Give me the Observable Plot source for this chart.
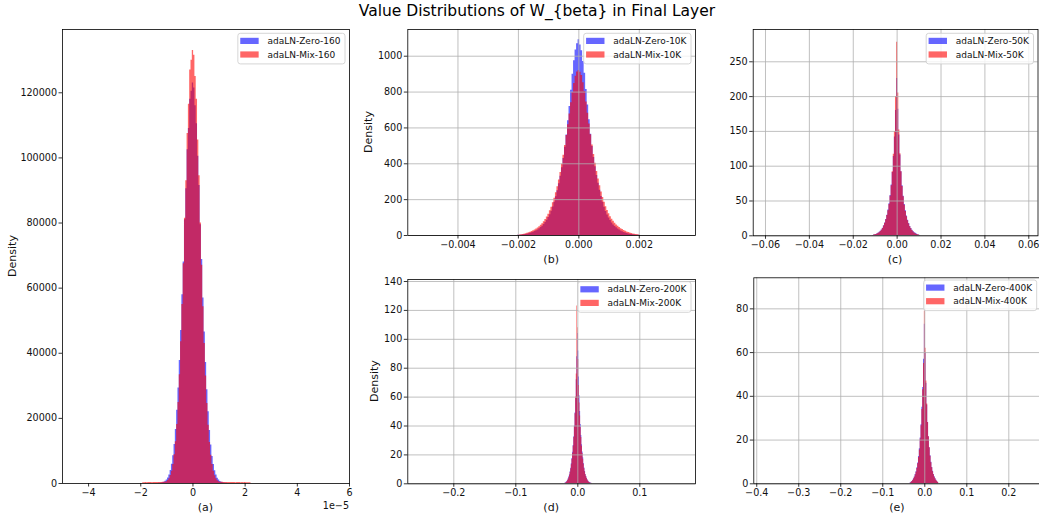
<!DOCTYPE html>
<html>
<head>
<meta charset="utf-8">
<script src="https://cdn.jsdelivr.net/npm/d3@7"></script>
<script src="https://cdn.jsdelivr.net/npm/@observablehq/plot@0.6"></script>
<style>
  html, body { margin: 0; padding: 0; background: #fff; }
  #figure { position: relative; width: 1039px; height: 515px; overflow: hidden; font-family: "DejaVu Sans", sans-serif; }
  #title { position: absolute; left: 537px; top: 2px; transform: translateX(-50%); white-space: nowrap;
           font-size: 15.5px; color: #000; z-index: 2; }
</style>
</head>
<body>
<div id="figure">
  <div id="title">Value Distributions of W_{beta} in Final Layer</div>
</div>
<script>
// ---- histogram bins (bin centres) and densities per checkpoint ----

// (a) step 160, x in units of 1e-5
const centersA = [-2.00,-1.95,-1.90,-1.85,-1.80,-1.75,-1.70,-1.65,-1.60,-1.55,-1.50,-1.45,-1.40,-1.35,-1.30,-1.25,-1.20,-1.15,
                  -1.10,-1.05,-1.00,-0.95,-0.90,-0.85,-0.80,-0.75,-0.70,-0.65,-0.60,-0.55,-0.50,-0.45,-0.40,-0.35,-0.30,-0.25,
                  -0.20,-0.15,-0.10,-0.05,0.00,0.05,0.10,0.15,0.20,0.25,0.30,0.35,0.40,0.45,0.50,0.55,0.60,0.65,0.70,0.75,
                  0.80,0.85,0.90,0.95,1.00,1.05,1.10,1.15,1.20,1.25,1.30,1.35,1.40,1.45,1.50,1.55,1.60,1.65,1.70,1.75,
                  1.80,1.85,1.90,1.95,2.00,2.05,2.10,2.15,2.20];
const zeroA = [0,0,0,0,0,0,0,0,0,0,
               0,8,16,30,52,88,145,245,410,660,
               1070,1690,2640,3980,5900,8500,12000,16600,22500,29300,
               37800,47000,58000,68000,81000,90500,102500,109000,118000,120500,
               123000,
               121500,116000,110500,100500,91500,79500,68800,57000,46500,37200,
               28800,22000,16300,11800,8300,5800,3900,2580,1650,1040,
               640,395,235,138,82,48,28,14,7,
               0,0,0,0,0,0,0,0,0,0,0,0,0,0,0];
const mixA = [0,0,240,260,280,250,270,300,280,260,
              290,300,310,290,320,330,340,360,390,440,
              530,900,1490,2420,3800,5850,8800,12800,18100,24900,
              33400,43500,55000,67500,81500,93000,107500,116500,127000,130000,
              133000,
              131500,125000,118000,105500,94500,80000,67000,54300,43000,33000,
              24600,17900,12600,8700,5800,3780,2400,1470,880,520,
              420,380,350,340,320,310,300,290,300,280,
              270,290,260,280,300,270,260,280,250,270,
              240,260,230,240];

// (b) step 10K
const centersB = [-0.00200,-0.00195,-0.00190,-0.00185,-0.00180,-0.00175,-0.00170,-0.00165,-0.00160,-0.00155,
                  -0.00150,-0.00145,-0.00140,-0.00135,-0.00130,-0.00125,-0.00120,-0.00115,-0.00110,-0.00105,
                  -0.00100,-0.00095,-0.00090,-0.00085,-0.00080,-0.00075,-0.00070,-0.00065,-0.00060,-0.00055,
                  -0.00050,-0.00045,-0.00040,-0.00035,-0.00030,-0.00025,-0.00020,-0.00015,-0.00010,-0.00005,
                  0,
                  0.00005,0.00010,0.00015,0.00020,0.00025,0.00030,0.00035,0.00040,0.00045,0.00050,
                  0.00055,0.00060,0.00065,0.00070,0.00075,0.00080,0.00085,0.00090,0.00095,0.00100,
                  0.00105,0.00110,0.00115,0.00120,0.00125,0.00130,0.00135,0.00140,0.00145,0.00150,
                  0.00155,0.00160,0.00165,0.00170,0.00175,0.00180,0.00185,0.00190,0.00195,0.00200];
const zeroB = [1,1.5,2,3,4,5.5,7,9.5,12,15,
               18,22,26,31,37,44,52,61,72,85,
               100,116,135,159,185,216,250,288,330,378,
               430,492,560,640,720,810,900,975,1035,1070,
               1092,
               1062,1030,970,905,815,728,645,565,497,435,
               383,335,291,252,218,186,158,134,115,98,
               83,70,59,50,43,36,30,25,21,17,
               14,11,9,7,5,4,3,2,1.5,1];
const mixB = [2,3,4,5.5,7,9.5,12,15,18,22,
              26,31,36,42,49,57,66,77,89,103,
              119,138,158,182,208,239,272,310,352,398,
              448,502,558,618,678,740,798,848,888,912,
              920,
              910,892,852,803,745,682,622,562,505,452,
              403,357,315,277,243,212,185,161,140,121,
              105,91,79,68,59,51,44,38,33,28,
              24,20,17,14,11,9,7,5,4,3];

// (c) step 50K
const centersC = [-0.0110,-0.0105,-0.0100,-0.0095,-0.0090,-0.0085,-0.0080,-0.0075,-0.0070,-0.0065,-0.0060,-0.0055,-0.0050,-0.0045,
                  -0.0040,-0.0035,-0.0030,-0.0025,-0.0020,-0.0015,-0.0010,-0.0005,0,0.0005,0.0010,0.0015,0.0020,0.0025,0.0030,0.0035,
                  0.0040,0.0045,0.0050,0.0055,0.0060,0.0065,0.0070,0.0075,0.0080,0.0085,0.0090,0.0095,0.0100,0.0105];
const zeroC = [0.5,1,1.5,2,3,3.5,5,6.5,8.5,11,14.5,18.5,23.5,29.5,37,46,58,73,91,114,142,180,226,
               182,145,116,92,72,57,45,36,28.5,22.5,17.5,13.5,10.5,8,6,4.5,3.5,2.5,1.5,1,0.5];
const mixC = [0.5,1,1.5,2,2.5,3.5,4.5,6,8,10.5,14,18,23,29,36,45,57,72,92,117,150,200,278,
              205,152,118,92,71,56,44,35,27.5,21.5,17,13,10,7.5,5.5,4,3,2,1.5,1,0.5];

// (d) step 200K
const centersD = [-0.020,-0.019,-0.018,-0.017,-0.016,-0.015,-0.014,-0.013,-0.012,-0.011,-0.010,-0.009,-0.008,-0.007,-0.006,
                  -0.005,-0.004,-0.003,-0.002,-0.001,0,0.001,0.002,0.003,0.004,0.005,0.006,0.007,0.008,0.009,0.010,0.011,
                  0.012,0.013,0.014,0.015,0.016,0.017,0.018,0.019,0.020,0.021,0.022,0.023];
const zeroD = [0.5,0.8,1.2,1.7,2.5,3.5,4.8,6.3,8.3,10.8,13.8,17.5,21.8,26.5,32.5,40,49,59,72,88,104,
               92,74,61,50,41,33.5,27,22,18,14,11,8.5,6.5,5,3.8,2.8,2,1.4,1,0.7,0.5,0.3,0.2];
const mixD = [0.4,0.6,1,1.5,2.2,3.2,4.4,5.9,7.8,10.2,13.2,16.8,21,26,32,39.5,48.5,60,76,123,108,
              86,68,56,47,39,32,26,21,17,13.5,10.5,8.2,6.3,4.8,3.6,2.6,1.9,1.3,0.9,0.6,0.4,0.3,0.2];

// (e) step 400K
const centersE = [-0.034,-0.032,-0.030,-0.028,-0.026,-0.024,-0.022,-0.020,-0.018,-0.016,-0.014,-0.012,-0.010,-0.008,-0.006,
                  -0.004,-0.002,0,0.002,0.004,0.006,0.008,0.010,0.012,0.014,0.016,0.018,0.020,0.022,0.024,0.026,0.028,0.030,0.032];
const zeroE = [0.4,0.7,1.1,1.6,2.3,3.1,4.2,5.5,7.3,9.5,12.5,16,21,27,35,44,57,73,
               60,46,36,28,21.5,16.5,12.8,9.8,7.5,5.7,4.3,3.2,2.3,1.6,1,0.6];
const mixE = [0.3,0.6,1,1.5,2.2,3,4,5.3,7,9.2,12,15.5,20.5,26.5,34,43,55,79,
              62,47,36.5,28,21.5,16.5,12.6,9.6,7.3,5.5,4.1,3,2.2,1.5,1,0.6];

// ---- tick values ----
const xTicksA = [-4, -2, 0, 2, 4, 6];
const yTicksA = [0, 20000, 40000, 60000, 80000, 100000, 120000];
const xTicksB = [-0.004, -0.002, 0, 0.002];
const yTicksB = [0, 200, 400, 600, 800, 1000];
const xTicksC = [-0.06, -0.04, -0.02, 0, 0.02, 0.04, 0.06];
const yTicksC = [0, 50, 100, 150, 200, 250];
const xTicksD = [-0.2, -0.1, 0, 0.1];
const yTicksD = [0, 20, 40, 60, 80, 100, 120, 140];
const xTicksE = [-0.4, -0.3, -0.2, -0.1, 0, 0.1, 0.2];
const yTicksE = [0, 20, 40, 60, 80];

const FONT = "DejaVu Sans";
const COLORS = ["blue", "red"];
const measureCtx = document.createElement("canvas").getContext("2d");
function textWidth(s, size) {
  measureCtx.font = `${size}px "${FONT}"`;
  return measureCtx.measureText(s).width;
}

// axis titles, offset text and legend box, placed relative to the plot frame
function decorations(p) {
  return (index, scales, values, dim) => {
    const L = dim.marginLeft, R = dim.width - dim.marginRight;
    const T = dim.marginTop, B = dim.height - dim.marginBottom;
    const g = d3.create("svg:g").attr("font-family", FONT).attr("fill", "#111");
    if (p.yLabel) {
      g.append("text")
        .attr("transform", `translate(${L - p.yLabelGap},${(T + B) / 2}) rotate(-90)`)
        .attr("text-anchor", "middle").attr("dominant-baseline", "central")
        .attr("font-size", 11).text(p.yLabel);
    }
    g.append("text")
      .attr("x", (L + R) / 2).attr("y", B + 24)
      .attr("text-anchor", "middle").attr("dominant-baseline", "central")
      .attr("font-size", 11).text(p.xLabel);
    if (p.offsetText) {
      g.append("text")
        .attr("x", R).attr("y", B + 22.7)
        .attr("text-anchor", "end").attr("dominant-baseline", "central")
        .attr("font-size", 9.6).text(p.offsetText);
    }
    const tw = Math.max(...p.names.map(n => textWidth(n, 9)));
    const bw = 29.6 + tw + 4.5;
    const bx = R - 4 - bw, by = T + p.legendTop;
    const lg = g.append("g");
    lg.append("rect").attr("x", bx).attr("y", by).attr("width", bw).attr("height", 30.6).attr("rx", 2.5)
      .attr("fill", "white").attr("fill-opacity", 0.8).attr("stroke", "#cccccc").attr("stroke-width", 0.8);
    p.names.forEach((n, i) => {
      const cy = by + 7.6 + i * 13.6;
      lg.append("rect").attr("x", bx + 2.4).attr("y", cy - 3.1).attr("width", 18.4).attr("height", 6.2)
        .attr("fill", COLORS[i]).attr("fill-opacity", 0.6);
      lg.append("text").attr("x", bx + 29.6).attr("y", cy)
        .attr("text-anchor", "start").attr("dominant-baseline", "central")
        .attr("font-size", 9).text(n);
    });
    return g.node();
  };
}

function drawPanel(p) {
  const w = p.centers[1] - p.centers[0];
  const steps = vals => p.centers.map((c, i) => ({x: c - w / 2, y: vals[i]}))
    .concat([{x: p.centers[p.centers.length - 1] + w / 2, y: 0}]);
  const axisOpts = {tickSize: 3.5, tickPadding: 2, label: null, stroke: "black", strokeWidth: 0.8};
  const gridOpts = {stroke: "#b0b0b0", strokeOpacity: 1, strokeWidth: 0.8};
  const chart = Plot.plot({
    width: p.width, height: p.height,
    marginTop: p.margin[0], marginRight: p.margin[1], marginBottom: p.margin[2], marginLeft: p.margin[3],
    style: {fontFamily: FONT, fontSize: "9.6px", color: "#111", background: "white", overflow: "hidden"},
    x: {type: "linear", domain: p.xDomain, axis: null},
    y: {type: "linear", domain: p.yDomain, axis: null},
    marks: [
      Plot.areaY(steps(p.zero), {x: "x", y: "y", curve: "step-after", fill: COLORS[0], fillOpacity: 0.6}),
      Plot.areaY(steps(p.mix), {x: "x", y: "y", curve: "step-after", fill: COLORS[1], fillOpacity: 0.6}),
      ...(p.grid ? [Plot.gridX(p.xTicks, gridOpts), Plot.gridY(p.yTicks, gridOpts)] : []),
      Plot.frame({stroke: "black", strokeWidth: 0.8}),
      Plot.axisX(p.xTicks, {...axisOpts, anchor: "bottom", tickFormat: d3.format(p.xFormat)}),
      Plot.axisY(p.yTicks, {...axisOpts, anchor: "left", tickFormat: d3.format("d")}),
      decorations(p)
    ]
  });
  chart.style.position = "absolute";
  chart.style.left = p.left + "px";
  chart.style.top = p.top + "px";
  document.getElementById("figure").appendChild(chart);
}

drawPanel({
  left: 0, top: 0, width: 355, height: 515, margin: [29, 6, 32, 62],
  xDomain: [-5, 6], yDomain: [0, 139440], xTicks: xTicksA, yTicks: yTicksA, xFormat: "d", grid: false,
  centers: centersA, zero: zeroA, mix: mixA, names: ["adaLN-Zero-160", "adaLN-Mix-160"],
  xLabel: "(a)", yLabel: "Density", yLabelGap: 50, offsetText: "1e\u22125", legendTop: 4.3
});
drawPanel({
  left: 355, top: 0, width: 345, height: 265, margin: [29, 5, 30, 52.3],
  xDomain: [-0.00566, 0.00386], yDomain: [0, 1149], xTicks: xTicksB, yTicks: yTicksB, xFormat: ".3f", grid: true,
  centers: centersB, zero: zeroB, mix: mixB, names: ["adaLN-Zero-10K", "adaLN-Mix-10K"],
  xLabel: "(b)", yLabel: "Density", yLabelGap: 39, legendTop: 4.3
});
drawPanel({
  left: 700, top: 0, width: 339, height: 265, margin: [29, 1.5, 29.7, 52.7],
  xDomain: [-0.0656, 0.0642], yDomain: [0, 296.4], xTicks: xTicksC, yTicks: yTicksC, xFormat: ".2f", grid: true,
  centers: centersC, zero: zeroC, mix: mixC, names: ["adaLN-Zero-50K", "adaLN-Mix-50K"],
  xLabel: "(c)", legendTop: 4.3
});
drawPanel({
  left: 355, top: 265, width: 345, height: 250, margin: [14, 5, 31.7, 52.3],
  xDomain: [-0.2742, 0.1898], yDomain: [0, 141.4], xTicks: xTicksD, yTicks: yTicksD, xFormat: ".1f", grid: true,
  centers: centersD, zero: zeroD, mix: mixD, names: ["adaLN-Zero-200K", "adaLN-Mix-200K"],
  xLabel: "(d)", yLabel: "Density", yLabelGap: 33.3, legendTop: 2.7
});
drawPanel({
  left: 700, top: 265, width: 342, height: 250, margin: [12.3, 1.3, 31.7, 53.3],
  xDomain: [-0.407, 0.2771], yDomain: [0, 94.2], xTicks: xTicksE, yTicks: yTicksE, xFormat: ".1f", grid: true,
  centers: centersE, zero: zeroE, mix: mixE, names: ["adaLN-Zero-400K", "adaLN-Mix-400K"],
  xLabel: "(e)", legendTop: 2.7
});
</script>
</body>
</html>
